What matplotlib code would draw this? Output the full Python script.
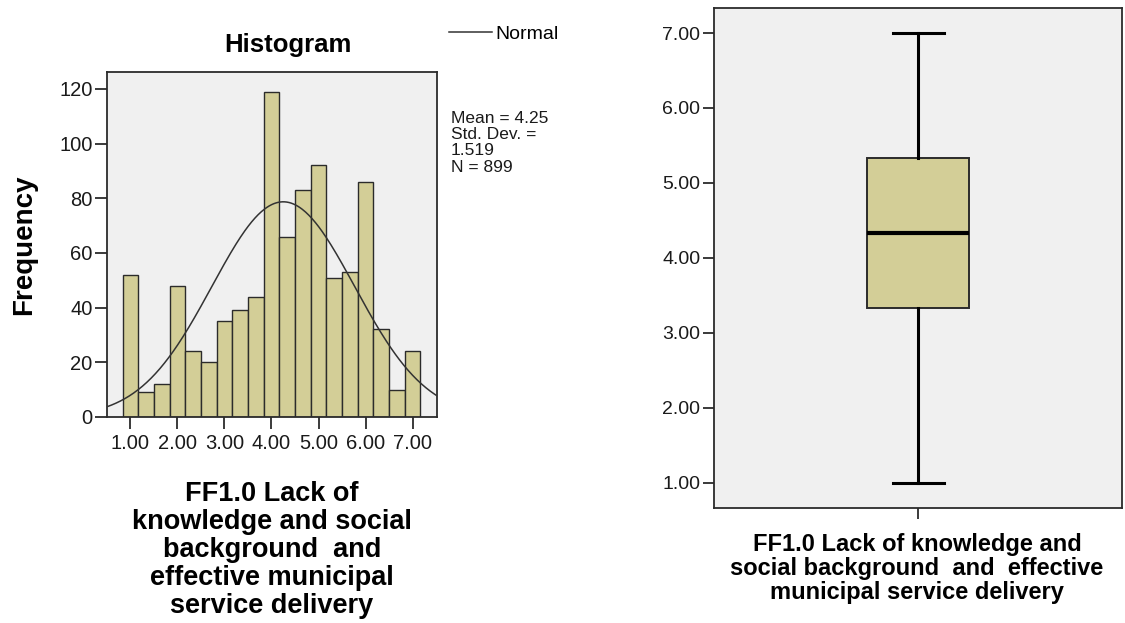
import numpy as np
import matplotlib.pyplot as plt

plt.rcParams['font.family'] = ['Liberation Sans', 'DejaVu Sans']

# histogram data (bins of width 1/3 centred on 1.00, 1.33, ... 7.00)
bin_lo, bin_hi = 5 / 6, 43 / 6
counts = [52, 9, 12, 48, 24, 20, 35, 39, 44, 119, 66, 83, 92, 51, 53, 86, 32, 10, 24]
mean, sd, n = 4.25, 1.519, 899
hist_ticks = [1, 2, 3, 4, 5, 6, 7]
freq_ticks = [0, 20, 40, 60, 80, 100, 120]

# box plot summary
box_stats = {'whislo': 1.00, 'q1': 3.33, 'med': 4.33, 'q3': 5.33, 'whishi': 7.00}
box_ticks = [1, 2, 3, 4, 5, 6, 7]

fill = '#D3CE97'
bg = '#F0F0F0'
edge = '#2b2b2b'

fig = plt.figure(figsize=(11.25, 6.23), dpi=100)

# ---- histogram
ax = fig.add_axes([0.0951, 0.3307, 0.2933, 0.5538])
ax.set_facecolor(bg)
edges = np.linspace(bin_lo, bin_hi, len(counts) + 1)
ax.bar(edges[:-1], counts, width=np.diff(edges), align='edge',
       color=fill, edgecolor=edge, linewidth=1.0, zorder=2)

xs = np.linspace(0.5, 7.52, 300)
bw = edges[1] - edges[0]
ys = n * bw * np.exp(-0.5 * ((xs - mean) / sd) ** 2) / (sd * np.sqrt(2 * np.pi))
normal_line, = ax.plot(xs, ys, color='#333333', lw=1.1, zorder=3)

ax.set_xlim(0.5, 7.52)
ax.set_ylim(0, 126.2)
ax.set_xticks(hist_ticks)
ax.set_xticklabels([f'{t:.2f}' for t in hist_ticks])
ax.set_yticks(freq_ticks)
ax.tick_params(direction='out', length=8.5, width=1.3, color=edge, labelsize=14.5,
               labelcolor='#1a1a1a', pad=2)
ax.tick_params(axis='x', pad=4)
for s in ax.spines.values():
    s.set_color(edge)
    s.set_linewidth(1.3)

ax.set_ylabel('Frequency', fontsize=20, fontweight='bold', labelpad=16)
fig.text(288 / 1125, 1 - 45 / 623, 'Histogram', ha='center', va='center',
         fontsize=18.5, fontweight='bold')
fig.text(272 / 1125, 1 - 481 / 623,
         'FF1.0 Lack of\nknowledge and social\nbackground  and\neffective municipal\nservice delivery',
         ha='center', va='top', fontsize=19.5, fontweight='bold', linespacing=1.1)

# legend and stats
fig.legend([normal_line], ['Normal'], loc='upper left', bbox_to_anchor=(449 / 1125, 1 - 25 / 623),
           frameon=False, fontsize=14, handlelength=2.2, handletextpad=0.2,
           borderaxespad=0, borderpad=0)
fig.text(451 / 1125, 1 - 111 / 623,
         f'Mean = {mean:.2f}\nStd. Dev. =\n{sd:.3f}\nN = {n}',
         ha='left', va='top', fontsize=12.5, linespacing=1.1, color='#1a1a1a')

# ---- box plot
bx = fig.add_axes([0.6347, 0.1841, 0.3627, 0.8026])
bx.set_facecolor(bg)
st = dict(box_stats)
st['fliers'] = []
bx.bxp([st], positions=[1], widths=0.25, capwidths=0.125, patch_artist=True,
       boxprops=dict(facecolor=fill, edgecolor=edge, linewidth=1.4),
       medianprops=dict(color='black', linewidth=3),
       whiskerprops=dict(color='black', linewidth=2.2),
       capprops=dict(color='black', linewidth=2.2))
bx.set_xlim(0.5, 1.5)
bx.set_ylim(0.66, 7.33)
bx.set_yticks(box_ticks)
bx.set_yticklabels([f'{t:.2f}' for t in box_ticks])
bx.set_xticks([1])
bx.set_xticklabels([''])
bx.tick_params(direction='out', length=8, width=1.3, color=edge, labelsize=14,
               labelcolor='#1a1a1a', pad=2)
for s in bx.spines.values():
    s.set_color(edge)
    s.set_linewidth(1.3)

fig.text(917 / 1125, 1 - 533 / 623,
         'FF1.0 Lack of knowledge and\nsocial background  and  effective\nmunicipal service delivery',
         ha='center', va='top', fontsize=17, fontweight='bold', linespacing=1.05)

fig.savefig('out.png', dpi=100, facecolor='white')
